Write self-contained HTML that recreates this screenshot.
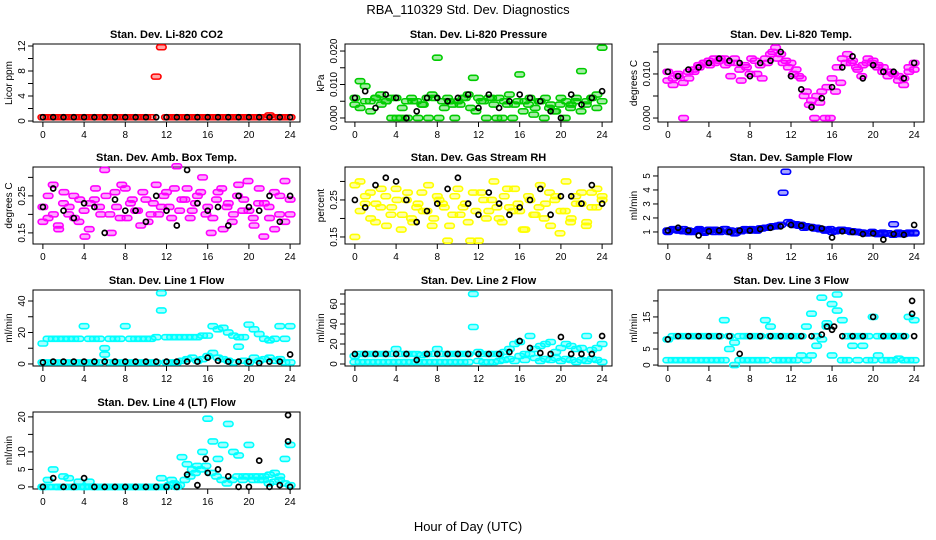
<!DOCTYPE html>
<html><head><meta charset="utf-8">
<style>
html,body{margin:0;padding:0;background:#fff;}
svg{display:block;font-family:"Liberation Sans",Arial,sans-serif;}
</style></head>
<body>
<svg id="chart" width="936" height="540" viewBox="0 0 936 540">
<text x="468" y="14" text-anchor="middle" font-size="13">RBA_110329  Std. Dev. Diagnostics</text>
<text x="468" y="531" text-anchor="middle" font-size="13">Hour of Day (UTC)</text>
</svg>
<script>
// ---- data ----
const xTicks = [0,4,8,12,16,20,24];
const co2Red = [0.6,0.6,0.6,0.6,0.6,0.6,0.6,0.6,0.6,0.6,0.6,0.6,0.6,0.6,0.6,0.6,0.6,0.6,0.6,0.6,0.6,0.6,7.1,11.8,0.6,0.6,0.6,0.6,0.6,0.6,0.6,0.6,0.6,0.6,0.6,0.6,0.6,0.6,0.6,0.6,0.6,0.6,0.6,0.6,0.9,0.6,0.6,0.6,0.6];
const co2Black = [0.6,0.6,0.6,0.6,0.6,0.6,0.6,0.6,0.6,0.6,0.6,0.6,0.6,0.6,0.6,0.6,0.6,0.6,0.6,0.6,0.6,0.6,0.6,0.6,0.6];
const presA = [0.006,0.011,0.0095,0.005,0.006,0.007,0.005,0.006,0.006,0,0.005,0.006,0.005,0.004,0.006,0.007,0.018,0.005,0.006,0.004,0.005,0.006,0.007,0.012,0.006,0.005,0.006,0.004,0.006,0.005,0.007,0.004,0.013,0.005,0.006,0.003,0.005,0.006,0.004,0.002,0.006,0.005,0.004,0.006,0.014,0.005,0.006,0.007,0.021];
const presB = [0.004,0.003,0.005,0.002,0.006,0.004,0.005,0,0,0.003,0,0.005,0,0.004,0,0.006,0,0.003,0.005,0,0.004,0.006,0.003,0.002,0.005,0,0.006,0,0,0.004,0,0.005,0.002,0.004,0.001,0.005,0,0.003,0.002,0.004,0,0.003,0.005,0.002,0.004,0.006,0.003,0.005];
const presBlack = [0.006,0.008,0.003,0.007,0.006,0,0.002,0.006,0.006,0.005,0.006,0.007,0.003,0.007,0.003,0.005,0.007,0.006,0.005,0.002,0,0.007,0.004,0.006,0.008];
const tempA = [0.0105,0.009,0.010,0.008,0.0105,0.011,0.012,0.0125,0.013,0.0135,0.013,0.0135,0.0125,0.0135,0.011,0.012,0.010,0.013,0.012,0.0135,0.0145,0.016,0.0145,0.013,0.0125,0.011,0.009,0.006,0.004,0.005,0.006,0.007,0.009,0.0115,0.0135,0.0145,0.013,0.011,0.012,0.0135,0.013,0.012,0.0115,0.0105,0.010,0.0095,0.009,0.0105,0.0125];
const tempB = [0.0085,0.0075,0.0095,0,0.009,0.0105,0.0115,0.0125,0.012,0.0125,0.0135,0.012,0.0095,0.0125,0.0085,0.0115,0.0135,0.010,0.009,0.0125,0.015,0.0135,0.0125,0.0115,0.010,0.0095,0.005,0.003,0,0.0035,0,0,0.006,0.008,0.0125,0.0125,0.0115,0.0095,0.0125,0.0125,0.0115,0.0105,0.0095,0.010,0.0085,0.0075,0.0115,0.011];
const tempBlack = [0.0105,0.0095,0.011,0.0115,0.0125,0.0135,0.013,0.0125,0.0095,0.0125,0.013,0.015,0.0095,0.0065,0.0025,0.0045,0.007,0.0115,0.014,0.009,0.012,0.0105,0.0105,0.009,0.0125];
const boxA = [0.22,0.19,0.28,0.17,0.23,0.2,0.25,0.18,0.21,0.16,0.24,0.22,0.32,0.2,0.26,0.19,0.27,0.23,0.21,0.17,0.24,0.2,0.28,0.22,0.26,0.19,0.33,0.24,0.27,0.21,0.25,0.3,0.22,0.19,0.26,0.16,0.23,0.2,0.28,0.24,0.21,0.17,0.27,0.23,0.19,0.16,0.25,0.29,0.2];
const boxB = [0.18,0.25,0.2,0.16,0.26,0.22,0.19,0.24,0.14,0.23,0.27,0.2,0.25,0.15,0.22,0.28,0.19,0.24,0.21,0.26,0.18,0.23,0.2,0.25,0.22,0.27,0.21,0.24,0.19,0.23,0.26,0.2,0.15,0.24,0.27,0.22,0.18,0.25,0.21,0.29,0.19,0.23,0.14,0.22,0.26,0.2,0.18,0.24];
const boxBlack = [0.22,0.27,0.21,0.19,0.23,0.22,0.15,0.24,0.21,0.21,0.18,0.25,0.21,0.17,0.32,0.23,0.21,0.22,0.17,0.25,0.22,0.21,0.25,0.18,0.25];
const rhA = [0.29,0.3,0.24,0.27,0.19,0.23,0.26,0.21,0.28,0.17,0.25,0.2,0.23,0.27,0.22,0.18,0.26,0.24,0.14,0.21,0.28,0.23,0.19,0.27,0.14,0.25,0.22,0.3,0.2,0.26,0.23,0.28,0.22,0.17,0.25,0.21,0.29,0.24,0.18,0.26,0.22,0.3,0.2,0.24,0.27,0.19,0.23,0.28,0.26];
const rhB = [0.15,0.22,0.26,0.2,0.24,0.28,0.18,0.23,0.25,0.21,0.27,0.19,0.24,0.22,0.29,0.2,0.25,0.23,0.18,0.26,0.21,0.24,0.14,0.22,0.27,0.2,0.25,0.23,0.19,0.28,0.22,0.24,0.17,0.26,0.21,0.23,0.2,0.27,0.25,0.16,0.22,0.19,0.26,0.24,0.18,0.27,0.23,0.25];
const rhBlack = [0.25,0.23,0.29,0.31,0.3,0.25,0.19,0.22,0.24,0.28,0.31,0.24,0.21,0.27,0.24,0.21,0.23,0.25,0.28,0.21,0.26,0.26,0.24,0.29,0.24];
const flowA = [1.1,1.2,1.15,1.05,1.1,1.0,1.1,1.05,1.15,1.0,1.1,1.2,1.0,0.9,1.1,1.2,1.1,1.15,1.25,1.3,1.35,1.4,1.5,5.3,1.6,1.55,1.5,1.4,1.35,1.3,1.2,1.15,1.0,1.1,1.15,1.1,1.05,1.0,0.95,0.9,0.95,0.9,0.85,0.9,1.55,0.85,0.9,0.95,0.9];
const flowB = [1.0,1.15,1.1,1.2,1.0,1.05,1.2,0.95,1.1,1.15,1.0,1.2,1.1,0.95,1.05,1.15,1.2,1.1,1.25,1.3,1.4,1.45,3.8,1.7,1.5,1.45,1.3,1.35,1.25,1.2,1.1,1.2,1.05,1.15,1.1,1.0,1.0,0.95,0.9,1.0,0.85,0.95,0.9,0.8,0.95,0.85,0.9,0.95];
const flowBlack = [1.1,1.3,1.1,0.75,1.05,1.1,1.0,1.1,1.1,1.2,1.3,1.4,1.5,1.45,1.3,1.25,0.6,1.05,1.0,0.85,0.9,0.45,0.85,0.8,1.5];
const l1A = [13,16,16,16,16,16,16,16,24,16,16,16,10,16,16,16,24,16,16,16,16,16,17,45,17,17,17,17,17,17,17,18,18,24,22,23,20,18,17,17,25,22,19,16,15,16,24,16,24];
const l1B = [1,1,1,1,1,1,1,1,1,1,1,1,6,1,1,1,1,1,1,1,1,1,1,34,1,1,1,2,3,4,2,3,5,7,4,3,2,1,11,2,1,4,2,3,4,2,3,1,1];
const l1Black = [1,1.5,1.5,1.5,1.5,1.5,1.5,1.5,1.5,1.5,1.5,1.5,1.5,1.5,1.5,1.5,4,2,1.5,1.5,1.5,0.5,1.5,1.5,6];
const l2A = [8,10,10,10,10,10,10,10,15,10,10,10,10,9,10,10,15,10,10,10,10,10,10,70,12,10,10,10,10,12,15,20,22,10,28,15,18,20,22,12,16,20,18,15,16,28,14,16,20];
const l2B = [2,2,2,2,2,2,2,2,2,2,2,2,2,2,2,2,2,2,2,2,2,2,2,37,3,2,2,2,3,4,5,3,8,4,10,6,3,5,4,6,3,5,4,2,4,3,5,4,2];
const l2Black = [10,10,10,10,10,10,4,10,10,10,10,10,10,10,10,12,23,16,11,10,27,10,10,10,28];
const l3A = [8,9,9,9,9,9,9,9,9,9,9,14,9,7,9,9,9,9,9,14,9,9,9,9,9,9,9,12,16,9,21,12,19,22,14,9,9,9,9,9,15,9,9,9,9,9,9,15,14];
const l3B = [1.5,1.5,1.5,1.5,1.5,1.5,1.5,1.5,1.5,1.5,1.5,1.5,5,0,1.5,1.5,1.5,1.5,1.5,1.5,12,1.5,1.5,1.5,1.5,1.5,3,1.5,3,6,8,13,3,17,1.5,1.5,6,1.5,6,1.5,1.5,3,1.5,1.5,1.5,2,1.5,1.5,1.5];
const l3Black = [8,9,9,9,9,9,9,3.5,9,9,9,9,9,9,9,9.5,11,9,9,9,15,9,9,9,9];
const l3ExtraHours = [15.5,16.2,23.8,23.8];
const l3ExtraBlack = [12,12,20,16];
const l4A = [0,2,5,0,3,2.5,0,1.5,0,1.5,0,0,0,0,0,0,0,0,0,0,0,0,0,2.5,0,2,0,8.5,6.5,5,6,10,19.5,13,8,12,18,10,9,3,12,3,2,3,3.5,4,3,8,12];
const l4B = [0,0,0,0,0,0,0,0,0,0,0,0,0,0,0,0,0,0,0,0,0,0,0,0,0.5,1,0.5,2,3,4,5,6,4,3,2,1,2,3,2,3,2,3,2,1,1.5,2,1,0.5];
const l4Black = [0,2.5,0,0,2.5,0,0,0,0,0,0,0,0,0,3.5,0.5,4,5,3,0,0,7.5,0,0.5,0];
const l4ExtraHours = [15.8,23.8,23.8];
const l4ExtraBlack = [8,20.5,13];

const NS = "http://www.w3.org/2000/svg";
const svg = document.getElementById('chart');
function mk(tag, attrs, parent){const e=document.createElementNS(NS,tag);for(const k in attrs)e.setAttribute(k,attrs[k]);(parent||svg).appendChild(e);return e;}

const cols = [[33,300],[345,612],[658,924]];
const rows = [[44,122],[167,244],[290,366],[412,489]];

function panel(o){
  const [x0,x1]=cols[o.c], [y0,y1]=rows[o.r];
  const g = mk('g',{});
  
  
  const xs = h => x0 + (h + 0.96) / 25.92 * (x1 - x0);
  const ys = v => y1 - (v - o.lo) / (o.hi - o.lo) * (y1 - y0);
  const t = mk('text',{x:(x0+x1)/2,y:y0-6,'text-anchor':'middle','font-size':11,'font-weight':'bold'},g);
  t.textContent = o.title;
  
  
  const box = mk('rect',{x:x0,y:y0,width:x1-x0,height:y1-y0,fill:'none',stroke:'#000','stroke-width':1},g);
  
  
  const xa = mk('g',{},g);
  
  
  mk('line',{x1:xs(0),x2:xs(24),y1:y1,y2:y1,stroke:'#000'},xa);
  xTicks.forEach(h=>{
    mk('line',{x1:xs(h),x2:xs(h),y1:y1,y2:y1+5,stroke:'#000'},xa);
    const tl = mk('text',{x:xs(h),y:y1+16,'text-anchor':'middle','font-size':10},xa);
    tl.textContent = h;
  });
  const ya = mk('g',{},g);
  
  
  mk('line',{x1:x0,x2:x0,y1:ys(o.ticks[0]),y2:ys(o.ticks[o.ticks.length-1]),stroke:'#000'},ya);
  o.ticks.forEach((v,i)=>{
    mk('line',{x1:x0-5,x2:x0,y1:ys(v),y2:ys(v),stroke:'#000'},ya);
    if(o.labels[i]!==''){
      const tl = mk('text',{x:x0-8,y:ys(v),'text-anchor':'middle','font-size':10,transform:`rotate(-90 ${x0-8} ${ys(v)})`},ya);
      tl.textContent = o.labels[i];
    }
  });
  const yl = mk('text',{x:x0-21,y:(y0+y1)/2,'text-anchor':'middle','font-size':10,transform:`rotate(-90 ${x0-21} ${(y0+y1)/2})`},g);
  yl.textContent = o.ylab;
  
  
  o.series.forEach(s=>{
    const black = s.color === '#000';
    const sg = mk('g',{fill:black?'none':s.color,'fill-opacity':0.35,stroke:s.color,'stroke-width':black?1.7:1.6},g);
    
    
    s.y.forEach((v,i)=>{
      const h = s.x ? s.x[i] : i*24/(s.y.length-1);
      const cx = xs(h), cy = ys(v);
      if(black){
        const c = mk('circle',{cx:cx,cy:cy,r:2.5},sg);
        
        
      } else {
        const c = mk('rect',{x:cx-4.8,y:cy-2.5,width:9.6,height:5,rx:2.5,ry:2.5},sg);
        
        
      }
    });
  });
}

panel({name:'panel-co2',c:0,r:0,title:'Stan. Dev. Li-820 CO2',ylab:'Licor ppm',lo:-0.16,hi:12.32,ticks:[0,2,4,6,8,10,12],labels:['0','','4','','8','','12'],
  series:[{name:'co2-series',color:'#f00',y:co2Red},{name:'co2-black-series',color:'#000',y:co2Black}]});
panel({name:'panel-pressure',c:1,r:0,title:'Stan. Dev. Li-820 Pressure',ylab:'kPa',lo:-0.0012,hi:0.0221,ticks:[0,0.005,0.01,0.015,0.02],labels:['0.000','','0.010','','0.020'],
  series:[{name:'pressure-series-a',color:'#0c0',y:presA},{name:'pressure-series-b',color:'#0c0',y:presB},{name:'pressure-black-series',color:'#000',y:presBlack}]});
panel({name:'panel-li820-temp',c:2,r:0,title:'Stan. Dev. Li-820 Temp.',ylab:'degrees C',lo:-0.0009,hi:0.0168,ticks:[0,0.005,0.01,0.015],labels:['0.000','','0.010',''],
  series:[{name:'temp-series-a',color:'#f0f',y:tempA},{name:'temp-series-b',color:'#f0f',y:tempB},{name:'temp-black-series',color:'#000',y:tempBlack}]});
panel({name:'panel-box-temp',c:0,r:1,title:'Stan. Dev. Amb. Box Temp.',ylab:'degrees C',lo:0.12,hi:0.328,ticks:[0.15,0.2,0.25,0.3],labels:['0.15','','0.25',''],
  series:[{name:'box-series-a',color:'#f0f',y:boxA},{name:'box-series-b',color:'#f0f',y:boxB},{name:'box-black-series',color:'#000',y:boxBlack}]});
panel({name:'panel-gas-rh',c:1,r:1,title:'Stan. Dev. Gas Stream RH',ylab:'percent',lo:0.131,hi:0.339,ticks:[0.15,0.2,0.25,0.3],labels:['0.15','','0.25',''],
  series:[{name:'rh-series-a',color:'#ff0',y:rhA},{name:'rh-series-b',color:'#ff0',y:rhB},{name:'rh-black-series',color:'#000',y:rhBlack}]});
panel({name:'panel-sample-flow',c:2,r:1,title:'Stan. Dev. Sample Flow',ylab:'ml/min',lo:0.14,hi:5.64,ticks:[1,2,3,4,5],labels:['1','2','3','4','5'],
  series:[{name:'flow-series-a',color:'#00f',y:flowA},{name:'flow-series-b',color:'#00f',y:flowB},{name:'flow-black-series',color:'#000',y:flowBlack}]});
panel({name:'panel-line1-flow',c:0,r:2,title:'Stan. Dev. Line 1 Flow',ylab:'ml/min',lo:-1.3,hi:47,ticks:[0,10,20,30,40],labels:['0','','20','','40'],
  series:[{name:'line1-series-a',color:'#0ff',y:l1A},{name:'line1-series-b',color:'#0ff',y:l1B},{name:'line1-black-series',color:'#000',y:l1Black}]});
panel({name:'panel-line2-flow',c:1,r:2,title:'Stan. Dev. Line 2 Flow',ylab:'ml/min',lo:-2,hi:74,ticks:[0,10,20,30,40,50,60,70],labels:['0','','20','','40','','60',''],
  series:[{name:'line2-series-a',color:'#0ff',y:l2A},{name:'line2-series-b',color:'#0ff',y:l2B},{name:'line2-black-series',color:'#000',y:l2Black}]});
panel({name:'panel-line3-flow',c:2,r:2,title:'Stan. Dev. Line 3 Flow',ylab:'ml/min',lo:-0.3,hi:23.4,ticks:[0,5,10,15,20],labels:['0','5','','15',''],
  series:[{name:'line3-series-a',color:'#0ff',y:l3A},{name:'line3-series-b',color:'#0ff',y:l3B},{name:'line3-black-series',color:'#000',y:l3Black},{name:'line3-black-extra',color:'#000',x:l3ExtraHours,y:l3ExtraBlack}]});
panel({name:'panel-line4-flow',c:0,r:3,title:'Stan. Dev. Line 4 (LT) Flow',ylab:'ml/min',lo:-0.6,hi:21.4,ticks:[0,5,10,15,20],labels:['0','5','10','','20'],
  series:[{name:'line4-series-a',color:'#0ff',y:l4A},{name:'line4-series-b',color:'#0ff',y:l4B},{name:'line4-black-series',color:'#000',y:l4Black},{name:'line4-black-extra',color:'#000',x:l4ExtraHours,y:l4ExtraBlack}]});
</script>
</body></html>
